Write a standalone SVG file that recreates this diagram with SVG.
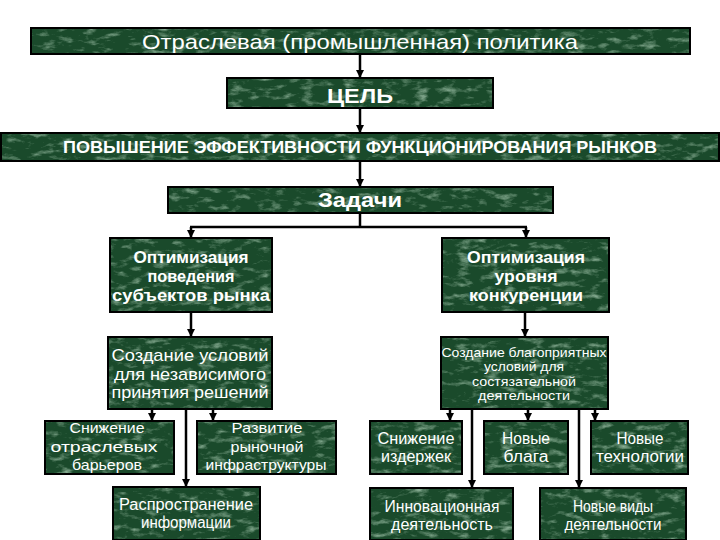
<svg xmlns="http://www.w3.org/2000/svg" width="720" height="540" viewBox="0 0 720 540">
<defs>
  <filter id="noise" filterUnits="userSpaceOnUse" x="0" y="0" width="720" height="540">
    <feTurbulence type="fractalNoise" baseFrequency="0.07 0.16" numOctaves="4" seed="11" result="n"/>
    <feColorMatrix in="n" type="matrix" values="0 0 0 0 0.40  0 0 0 0 0.60  0 0 0 0 0.45  1.9 0 0 0 -0.98"/>
  </filter>
  <pattern id="tex" patternUnits="userSpaceOnUse" x="0" y="0" width="720" height="540">
    <rect width="720" height="540" fill="#1a4a2b"/>
    <rect width="720" height="540" filter="url(#noise)"/>
  </pattern>
  <marker id="arr" markerUnits="userSpaceOnUse" markerWidth="8" markerHeight="8" refX="8" refY="4" orient="auto">
    <path d="M0,0 L8,4 L0,8 z" fill="#000"/>
  </marker>
  <style>
    .box{fill:url(#tex);stroke:#000;stroke-width:2}
    .t{font-family:"Liberation Sans",Arial,sans-serif;fill:#fff;text-anchor:middle}
    .b{font-weight:bold}
    .c{stroke:#000;stroke-width:2.5;fill:none}
    .a{marker-end:url(#arr)}
  </style>
</defs>
<rect width="720" height="540" fill="#fff"/>

<g id="connectors">
  <line class="c a" x1="360" y1="55" x2="360" y2="78"/>
  <line class="c a" x1="360" y1="109" x2="360" y2="133"/>
  <line class="c a" x1="360" y1="162" x2="360" y2="187"/>
  <polyline class="c" points="360,214 360,227"/>
  <line class="c" x1="190" y1="227" x2="527" y2="227"/>
  <line class="c a" x1="191" y1="227" x2="191" y2="238"/>
  <line class="c a" x1="526" y1="227" x2="526" y2="238"/>
  <line class="c a" x1="191" y1="313" x2="191" y2="337"/>
  <line class="c a" x1="525" y1="313" x2="525" y2="337"/>
  <line class="c a" x1="152" y1="410" x2="152" y2="421"/>
  <line class="c a" x1="213" y1="410" x2="213" y2="421"/>
  <line class="c a" x1="186" y1="410" x2="186" y2="487"/>
  <line class="c a" x1="450" y1="410" x2="450" y2="421"/>
  <line class="c a" x1="528" y1="410" x2="528" y2="421"/>
  <line class="c a" x1="595" y1="410" x2="595" y2="421"/>
  <line class="c a" x1="472" y1="410" x2="472" y2="488"/>
  <line class="c a" x1="579" y1="410" x2="579" y2="488"/>
</g>

<g id="n-policy">
  <rect class="box" x="31" y="28" width="659" height="26"/>
  <text class="t" x="360" y="49" font-size="21" textLength="436" lengthAdjust="spacingAndGlyphs">Отраслевая (промышленная) политика</text>
</g>
<g id="n-goal">
  <rect class="box" x="227" y="78" width="266" height="30"/>
  <text class="t b" x="360" y="103" font-size="21" textLength="66" lengthAdjust="spacingAndGlyphs">ЦЕЛЬ</text>
</g>
<g id="n-efficiency">
  <rect class="box" x="1" y="133" width="718" height="28"/>
  <text class="t b" x="360" y="153" font-size="16.5" textLength="594" lengthAdjust="spacingAndGlyphs">ПОВЫШЕНИЕ ЭФФЕКТИВНОСТИ ФУНКЦИОНИРОВАНИЯ РЫНКОВ</text>
</g>
<g id="n-tasks">
  <rect class="box" x="168" y="187" width="385" height="26"/>
  <text class="t b" x="360" y="207" font-size="20" textLength="84" lengthAdjust="spacingAndGlyphs">Задачи</text>
</g>
<g id="n-opt-behavior">
  <rect class="box" x="110" y="238" width="162" height="74"/>
  <text class="t b" x="191" y="263" font-size="16.5" textLength="115" lengthAdjust="spacingAndGlyphs">Оптимизация</text>
  <text class="t b" x="191" y="282" font-size="16.5" textLength="87" lengthAdjust="spacingAndGlyphs">поведения</text>
  <text class="t b" x="191" y="301" font-size="16.5" textLength="158" lengthAdjust="spacingAndGlyphs">субъектов рынка</text>
</g>
<g id="n-opt-competition">
  <rect class="box" x="442" y="238" width="167" height="74"/>
  <text class="t b" x="526" y="263" font-size="16.5" textLength="118" lengthAdjust="spacingAndGlyphs">Оптимизация</text>
  <text class="t b" x="526" y="282" font-size="16.5" textLength="63" lengthAdjust="spacingAndGlyphs">уровня</text>
  <text class="t b" x="526" y="301" font-size="16.5" textLength="114" lengthAdjust="spacingAndGlyphs">конкуренции</text>
</g>
<g id="n-conditions-independent">
  <rect class="box" x="108" y="337" width="164" height="72"/>
  <text class="t" x="190" y="361" font-size="17" textLength="157" lengthAdjust="spacingAndGlyphs">Создание условий</text>
  <text class="t" x="190" y="380" font-size="17" textLength="152" lengthAdjust="spacingAndGlyphs">для независимого</text>
  <text class="t" x="190" y="398" font-size="17" textLength="157" lengthAdjust="spacingAndGlyphs">принятия решений</text>
</g>
<g id="n-conditions-competitive">
  <rect class="box" x="441" y="337" width="167" height="72"/>
  <text class="t" x="524" y="357" font-size="13" textLength="165" lengthAdjust="spacingAndGlyphs">Создание благоприятных</text>
  <text class="t" x="524" y="371" font-size="13" textLength="80" lengthAdjust="spacingAndGlyphs">условий для</text>
  <text class="t" x="524" y="386" font-size="13" textLength="104" lengthAdjust="spacingAndGlyphs">состязательной</text>
  <text class="t" x="524" y="400" font-size="13" textLength="92" lengthAdjust="spacingAndGlyphs">деятельности</text>
</g>
<g id="n-barriers">
  <rect class="box" x="45" y="421" width="129" height="53"/>
  <text class="t" x="107" y="433" font-size="15" textLength="75" lengthAdjust="spacingAndGlyphs">Снижение</text>
  <text class="t" x="104" y="452" font-size="15" textLength="107" lengthAdjust="spacingAndGlyphs">отраслевых</text>
  <text class="t" x="107" y="470" font-size="15" textLength="70" lengthAdjust="spacingAndGlyphs">барьеров</text>
</g>
<g id="n-infrastructure">
  <rect class="box" x="197" y="421" width="139" height="53"/>
  <text class="t" x="267" y="433" font-size="15" textLength="71" lengthAdjust="spacingAndGlyphs">Развитие</text>
  <text class="t" x="267" y="452" font-size="15" textLength="73" lengthAdjust="spacingAndGlyphs">рыночной</text>
  <text class="t" x="266" y="470" font-size="15" textLength="121" lengthAdjust="spacingAndGlyphs">инфраструктуры</text>
</g>
<g id="n-information">
  <rect class="box" x="113" y="487" width="147" height="53"/>
  <text class="t" x="186" y="510" font-size="16" textLength="134" lengthAdjust="spacingAndGlyphs">Распространение</text>
  <text class="t" x="186" y="528" font-size="16" textLength="90" lengthAdjust="spacingAndGlyphs">информации</text>
</g>
<g id="n-costs">
  <rect class="box" x="370" y="421" width="92" height="53"/>
  <text class="t" x="416" y="444" font-size="16" textLength="77" lengthAdjust="spacingAndGlyphs">Снижение</text>
  <text class="t" x="416" y="462" font-size="16" textLength="70" lengthAdjust="spacingAndGlyphs">издержек</text>
</g>
<g id="n-goods">
  <rect class="box" x="484" y="421" width="84" height="53"/>
  <text class="t" x="526" y="444" font-size="16" textLength="48" lengthAdjust="spacingAndGlyphs">Новые</text>
  <text class="t" x="526" y="462" font-size="16" textLength="45" lengthAdjust="spacingAndGlyphs">блага</text>
</g>
<g id="n-technologies">
  <rect class="box" x="591" y="421" width="97" height="53"/>
  <text class="t" x="640" y="444" font-size="16" textLength="47" lengthAdjust="spacingAndGlyphs">Новые</text>
  <text class="t" x="640" y="462" font-size="16" textLength="88" lengthAdjust="spacingAndGlyphs">технологии</text>
</g>
<g id="n-innovation">
  <rect class="box" x="370" y="488" width="143" height="52"/>
  <text class="t" x="442" y="512" font-size="16" textLength="115" lengthAdjust="spacingAndGlyphs">Инновационная</text>
  <text class="t" x="442" y="530" font-size="16" textLength="102" lengthAdjust="spacingAndGlyphs">деятельность</text>
</g>
<g id="n-new-activities">
  <rect class="box" x="540" y="488" width="146" height="52"/>
  <text class="t" x="613" y="512" font-size="16" textLength="80" lengthAdjust="spacingAndGlyphs">Новые виды</text>
  <text class="t" x="613" y="530" font-size="16" textLength="97" lengthAdjust="spacingAndGlyphs">деятельности</text>
</g>
</svg>
